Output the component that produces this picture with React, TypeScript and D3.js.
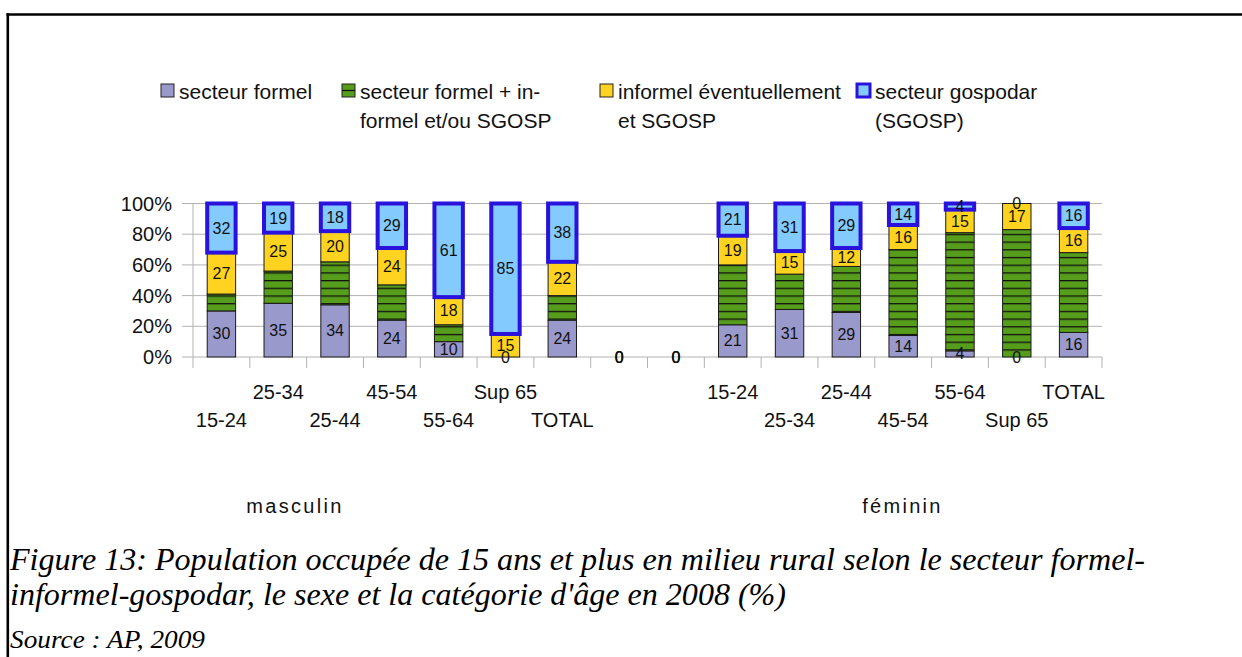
import React from "react";
import * as d3 from "d3";

const categories = ["15-24", "25-34", "25-44", "45-54", "55-64", "Sup 65", "TOTAL", "", "", "15-24", "25-34", "25-44", "45-54", "55-64", "Sup 65", "TOTAL"];
const secteurFormel = [30, 35, 34, 24, 10, 0, 24, 0, 0, 21, 31, 29, 14, 4, 0, 16];
const formelInformel = [11, 21, 28, 23, 11, 0, 16, 0, 0, 39, 23, 30, 56, 77, 83, 52];
const informelSgosp = [27, 25, 20, 24, 18, 15, 22, 0, 0, 19, 15, 12, 16, 15, 17, 16];
const gospodar = [32, 19, 18, 29, 61, 85, 38, 0, 0, 21, 31, 29, 14, 4, 0, 16];
const seriesKeys = ["formel", "mixte", "informel", "gospodar"];
const seriesLabels = [
  ["secteur formel"],
  ["secteur formel + in-", "formel et/ou SGOSP"],
  ["informel éventuellement", "et SGOSP"],
  ["secteur gospodar", "(SGOSP)"],
];
const labelledSeries = [true, false, true, true];
const yTicks = [0, 20, 40, 60, 80, 100];
const groupLabels = ["masculin", "féminin"];
const captionLines = [
  "Figure 13: Population occupée de 15 ans et plus en milieu rural selon le secteur formel-",
  "informel-gospodar, le sexe et la catégorie d'âge en 2008 (%)",
];
const sourceText = "Source : AP, 2009";

const W = 1242;
const H = 657;
const SANS = "'Liberation Sans', Arial, sans-serif";
const SERIF = "'Liberation Serif', 'Times New Roman', serif";
const fills = ["#9999cc", "url(#stripes)", "#ffd320", "#83caff"];
const blueStroke = "#2a12dd";

export default function App() {
  const x = d3
    .scaleBand<number>()
    .domain(categories.map((_, i) => i))
    .range([193, 1102])
    .paddingInner(0.5)
    .paddingOuter(0.25);
  const y = d3.scaleLinear().domain([0, 100]).range([357, 203.5]);
  const step = x.step();
  const rows = categories.map((c, i) => ({
    formel: secteurFormel[i],
    mixte: formelInformel[i],
    informel: informelSgosp[i],
    gospodar: gospodar[i],
  }));
  const stack = d3.stack<any>().keys(seriesKeys)(rows);

  const legendX = [161, 342, 600, 857];
  const legendTop = 84;

  return (
    <svg width={W} height={H} style={{ position: "absolute", left: 0, top: 0, background: "#fff" }}>
      <defs>
        <pattern id="stripes" patternUnits="userSpaceOnUse" width={20} height={7.7} patternTransform="translate(0,357)">
          <rect x={0} y={0} width={20} height={7.7} fill="#579d1c" />
          <rect x={0} y={0} width={20} height={1.3} fill="#111" />
        </pattern>
      </defs>
      <rect x={0} y={0} width={W} height={H} fill="#fff" />
      {/* border */}
      <line x1={6.5} x2={W} y1={14.5} y2={14.5} stroke="#000" strokeWidth={2.6} />
      <line x1={7.8} x2={7.8} y1={13.2} y2={H} stroke="#000" strokeWidth={2.6} />

      {/* legend */}
      {seriesLabels.map((lines, i) => (
        <g key={i}>
          {i === 1 ? (
            <g>
              <rect x={legendX[i]} y={legendTop} width={13} height={13} fill="#579d1c" stroke="#222" strokeWidth={1} />
              <line x1={legendX[i]} x2={legendX[i] + 13} y1={legendTop + 6.5} y2={legendTop + 6.5} stroke="#111" strokeWidth={1.3} />
            </g>
          ) : (
            <rect
              x={legendX[i]}
              y={legendTop}
              width={13}
              height={13}
              fill={fills[i]}
              stroke={i === 3 ? blueStroke : "#222"}
              strokeWidth={i === 3 ? 3 : 1}
            />
          )}
          {lines.map((t, j) => (
            <text
              key={j}
              x={legendX[i] + 18}
              y={legendTop + 7 + j * 29}
              dominantBaseline="central"
              fontFamily={SANS}
              fontSize={21}
              fill="#111"
            >
              {t}
            </text>
          ))}
        </g>
      ))}

      {/* grid */}
      {yTicks.map((t) => (
        <g key={t}>
          <line x1={182} x2={1102} y1={y(t)} y2={y(t)} stroke="#b3b3b3" strokeWidth={1} />
          <text x={172} y={y(t)} textAnchor="end" dominantBaseline="central" fontFamily={SANS} fontSize={20} fill="#111">
            {t}%
          </text>
        </g>
      ))}
      <line x1={193} x2={193} y1={y(100)} y2={368} stroke="#b3b3b3" strokeWidth={1} />
      {d3.range(1, categories.length + 1).map((i) => (
        <line key={i} x1={193 + i * step} x2={193 + i * step} y1={y(0)} y2={368} stroke="#b3b3b3" strokeWidth={1} />
      ))}

      {/* bars */}
      {stack.map((s, si) => (
        <g key={si}>
          {s.map((d, i) => {
            const v = d[1] - d[0];
            if (v <= 0) return null;
            return (
              <rect
                key={i}
                x={x(i)}
                width={x.bandwidth()}
                y={y(d[1])}
                height={y(d[0]) - y(d[1])}
                fill={fills[si]}
                stroke={si === 3 ? blueStroke : "#1a1a1a"}
                strokeWidth={si === 3 ? 4 : 1}
              />
            );
          })}
        </g>
      ))}

      {/* value labels */}
      {stack.map((s, si) =>
        labelledSeries[si]
          ? s.map((d, i) => (
              <text
                key={`${si}-${i}`}
                x={(x(i) as number) + x.bandwidth() / 2}
                y={y((d[0] + d[1]) / 2)}
                textAnchor="middle"
                dominantBaseline="central"
                fontFamily={SANS}
                fontSize={16}
                fill="#111"
              >
                {d[1] - d[0]}
              </text>
            ))
          : null
      )}

      {/* category labels */}
      {categories.map((c, i) => (
        <text
          key={i}
          x={(x(i) as number) + x.bandwidth() / 2}
          y={i % 2 === 0 ? 420 : 392}
          textAnchor="middle"
          dominantBaseline="central"
          fontFamily={SANS}
          fontSize={20}
          fill="#111"
        >
          {c}
        </text>
      ))}

      {/* group labels */}
      {groupLabels.map((g, i) => (
        <text
          key={g}
          x={i === 0 ? 295 : 902.5}
          y={506}
          textAnchor="middle"
          dominantBaseline="central"
          fontFamily={SANS}
          fontSize={20}
          letterSpacing={2.3}
          fill="#111"
        >
          {g}
        </text>
      ))}

      {/* caption */}
      {captionLines.map((t, i) => (
        <text
          key={i}
          x={10}
          y={570 + i * 35}
          fontFamily={SERIF}
          fontStyle="italic"
          fontSize={32}
          fill="#000"
          textLength={i === 0 ? 1135 : 776}
          lengthAdjust="spacingAndGlyphs"
        >
          {t}
        </text>
      ))}
      <text x={10} y={648} fontFamily={SERIF} fontStyle="italic" fontSize={26} fill="#000" textLength={195} lengthAdjust="spacingAndGlyphs">
        {sourceText}
      </text>
    </svg>
  );
}
